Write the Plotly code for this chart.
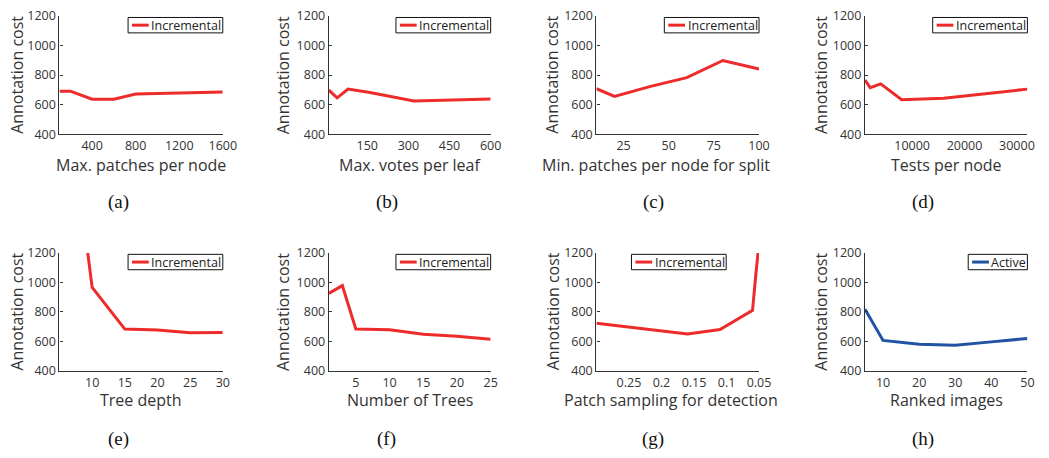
import plotly.graph_objects as go

W, H = 1049, 458

# ---------------- data ----------------
a_x = [100, 200, 400, 600, 800, 1600]
a_y = [691, 691, 637, 636, 672, 685]

b_x = [10, 40, 80, 160, 320, 600]
b_y = [698, 646, 705, 682, 624, 638]

c_x = [10, 20, 40, 60, 80, 100]
c_y = [708, 656, 724, 783, 899, 841]

d_x = [1000, 2000, 4000, 8000, 16000, 32000]
d_y = [766, 715, 741, 633, 643, 705]

e_x = [5, 10, 15, 20, 25, 30]
e_y = [2700, 966, 683, 677, 658, 659]

f_x = [1, 3, 5, 10, 15, 20, 25]
f_y = [925, 978, 684, 678, 648, 634, 614]

g_x = [0.3, 0.16, 0.11, 0.06, 0.055, 0.05]
g_y = [722, 650, 680, 810, 1050, 1265]

h_x = [5, 10, 20, 30, 40, 50]
h_y = [818, 606, 580, 573, 596, 619]

y_ticks = [400, 600, 800, 1000, 1200]
y_range = [400, 1200]

x_titles = ["Max. patches per node", "Max. votes per leaf", "Min. patches per node for split",
            "Tests per node", "Tree depth", "Number of Trees", "Patch sampling for detection",
            "Ranked images"]
captions = ["(a)", "(b)", "(c)", "(d)", "(e)", "(f)", "(g)", "(h)"]
series_names = ["Incremental"] * 7 + ["Active"]
y_title = "Annotation cost"

x_ranges = [[100, 1600], [10, 600], [10, 100], [1000, 32000], [5, 30], [1, 25], [0.3, 0.05], [5, 50]]
x_tickvals = [[400, 800, 1200, 1600], [150, 300, 450, 600], [25, 50, 75, 100],
              [10000, 20000, 30000], [10, 15, 20, 25, 30], [5, 10, 15, 20, 25],
              [0.25, 0.2, 0.15, 0.1, 0.05], [10, 20, 30, 40, 50]]
x_ticktext = [["400", "800", "1200", "1600"], ["150", "300", "450", "600"], ["25", "50", "75", "100"],
              ["10000", "20000", "30000"], ["10", "15", "20", "25", "30"], ["5", "10", "15", "20", "25"],
              ["0.25", "0.2", "0.15", "0.1", "0.05"], ["10", "20", "30", "40", "50"]]

xs = [a_x, b_x, c_x, d_x, e_x, f_x, g_x, h_x]
ys = [a_y, b_y, c_y, d_y, e_y, f_y, g_y, h_y]

RED = "#ee2b2b"
BLUE = "#2152a3"
colors = [RED] * 7 + [BLUE]

# ---------------- layout geometry (pixels) ----------------
col_px = [(60.3, 225.8), (333.3, 497.3), (604.5, 769.3), (876.7, 1041.3)]
row_px = [(7.3, 130.0), (253.3, 375.7)]
ytitle_x = [17, 287, 560, 832]
caption_x = [120, 392, 662, 935]
caption_y = [200, 447]
xtitle_y = [161.5, 406.5]
xtitle_cx = [None, None, 665, None, None, None, 680, None]
legend_right = [None, None, None, None, None, None, 736, None]
legend_w = {"Incremental": 96, "Active": 60}

FONT = "Open Sans"
TXT = "#333333"

fig = go.Figure()
layout = dict(width=W, height=H, margin=dict(l=0, r=0, t=0, b=0),
              paper_bgcolor="white", plot_bgcolor="white", showlegend=False,
              font=dict(family=FONT, color=TXT, size=12))
annotations = []
shapes = []


def px_x(v):
    return v / W


def px_y(v):
    return 1 - v / H


for i in range(8):
    r, c = divmod(i, 4)
    x0, x1 = col_px[c]
    y0, y1 = row_px[r]
    xd = [x0 / W, x1 / W]
    yd = [1 - y1 / H, 1 - y0 / H]
    k = "" if i == 0 else str(i + 1)
    fig.add_trace(go.Scatter(x=xs[i], y=ys[i], mode="lines", name=series_names[i],
                             line=dict(color=colors[i], width=3),
                             xaxis="x" + k, yaxis="y" + k))
    layout["xaxis" + k] = dict(domain=xd, range=x_ranges[i], anchor="y" + k,
                               tickvals=x_tickvals[i], ticktext=x_ticktext[i],
                               showgrid=False, zeroline=False, showline=True,
                               linecolor="#333333", linewidth=1.3, ticks="",
                               tickfont=dict(family=FONT, size=12.5, color=TXT))
    layout["yaxis" + k] = dict(domain=yd, range=y_range, anchor="x" + k,
                               tickvals=y_ticks, showgrid=False, zeroline=False,
                               showline=True, linecolor="#333333", linewidth=1.3,
                               ticks="inside", ticklen=3, tickcolor="#333333",
                               tickfont=dict(family=FONT, size=12.5, color=TXT))
    # legend box (drawn manually so its size matches the original)
    lr = legend_right[i] if legend_right[i] else x1
    lw = legend_w[series_names[i]]
    lt, lb = y0 + 1.5, y0 + 17.5
    ll = lr - lw
    shapes.append(dict(type="rect", xref="paper", yref="paper",
                       x0=px_x(ll), x1=px_x(lr), y0=px_y(lb), y1=px_y(lt),
                       line=dict(color="#111111", width=1), fillcolor="white", layer="above"))
    shapes.append(dict(type="line", xref="paper", yref="paper",
                       x0=px_x(ll + 4), x1=px_x(ll + 21), y0=px_y((lt + lb) / 2), y1=px_y((lt + lb) / 2),
                       line=dict(color=colors[i], width=3), layer="above"))
    annotations.append(dict(text=series_names[i], x=px_x(ll + 21.5), y=px_y((lt + lb) / 2),
                            xref="paper", yref="paper", showarrow=False,
                            xanchor="left", yanchor="middle",
                            font=dict(family=FONT, size=12.5, color="#222222")))
    # titles
    cx = xtitle_cx[i] if xtitle_cx[i] else (x0 + x1) / 2
    annotations.append(dict(text=x_titles[i], x=cx / W, y=1 - xtitle_y[r] / H,
                            xref="paper", yref="paper", showarrow=False,
                            xanchor="center", yanchor="middle",
                            font=dict(family=FONT, size=16, color=TXT)))
    annotations.append(dict(text=y_title, x=ytitle_x[c] / W, y=1 - (y0 + y1) / 2 / H,
                            xref="paper", yref="paper", showarrow=False, textangle=-90,
                            xanchor="center", yanchor="middle",
                            font=dict(family=FONT, size=16, color=TXT)))
    annotations.append(dict(text=captions[i], x=caption_x[c] / W, y=1 - caption_y[r] / H,
                            xref="paper", yref="paper", showarrow=False,
                            xanchor="center", yanchor="middle",
                            font=dict(family="Liberation Serif", size=19, color="#111111")))

layout["annotations"] = annotations
layout["shapes"] = shapes
fig.update_layout(**layout)
fig.write_html("out.html")
